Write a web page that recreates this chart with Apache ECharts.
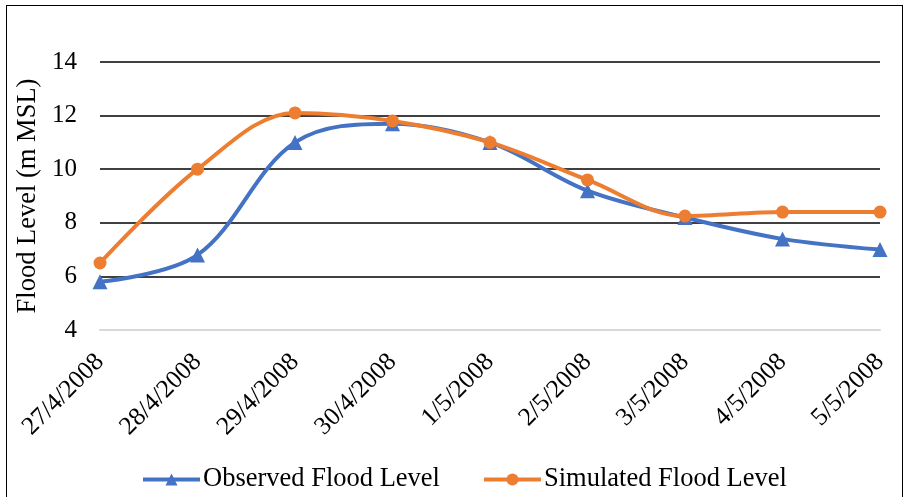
<!DOCTYPE html>
<html><head><meta charset="utf-8">
<script src="https://cdn.jsdelivr.net/npm/echarts@6/dist/echarts.min.js"></script>
<style>
html,body{margin:0;padding:0;background:#fff;}
#frame{position:absolute;left:6px;top:5px;width:897px;height:500px;border:1.5px solid #000;box-sizing:border-box;}
#c{position:absolute;left:0;top:0;width:905px;height:497px;}
</style></head>
<body><div id="frame"></div><div id="c"></div>
<script>
const categories = ['27/4/2008','28/4/2008','29/4/2008','30/4/2008','1/5/2008','2/5/2008','3/5/2008','4/5/2008','5/5/2008'];
const observed = [5.8, 6.8, 11.0, 11.7, 11.0, 9.2, 8.2, 7.4, 7.0];
const simulated = [6.5, 10.0, 12.1, 11.8, 11.0, 9.6, 8.25, 8.4, 8.4];
const yTicks = [4, 6, 8, 10, 12, 14];
const font = 'Liberation Serif, Times New Roman, serif';
const chart = echarts.init(document.getElementById('c'));
chart.setOption({
  animation:false,
  grid:{left:100, right:25, top:62, bottom:167, containLabel:false},
  legend:{
    bottom:-1, left:136, itemWidth:57, itemHeight:15, itemGap:42,
    lineStyle:{width:4},
    textStyle:{fontFamily:font, fontSize:26.5, color:'#000', padding:[0,0,0,-2]},
    data:['Observed Flood Level','Simulated Flood Level']
  },
  xAxis:{
    type:'category', data:categories, boundaryGap:false,
    axisLine:{show:true, lineStyle:{color:'#d9d9d9', width:2}},
    axisTick:{show:false},
    axisLabel:{rotate:45, fontFamily:font, fontSize:25.5, color:'#000', margin:28, interval:0}
  },
  yAxis:{
    type:'value', min:yTicks[0], max:yTicks[yTicks.length-1], interval:2,
    name:'Flood Level (m MSL)', nameLocation:'middle', nameGap:57,
    nameTextStyle:{fontFamily:font, fontSize:26.5, color:'#000'},
    axisLine:{show:false}, axisTick:{show:false},
    axisLabel:{fontFamily:font, fontSize:25, color:'#000', margin:23},
    splitLine:{lineStyle:{color:'#000', width:1.5}}
  },
  series:[
    {name:'Observed Flood Level', type:'line', data:observed, smooth:0.35,
     symbol:'triangle', symbolSize:15, lineStyle:{color:'#4472C4', width:4},
     itemStyle:{color:'#4472C4'}},
    {name:'Simulated Flood Level', type:'line', data:simulated, smooth:0.35,
     symbol:'circle', symbolSize:13, lineStyle:{color:'#ED7D31', width:4},
     itemStyle:{color:'#ED7D31'}}
  ]
});
</script></body></html>
